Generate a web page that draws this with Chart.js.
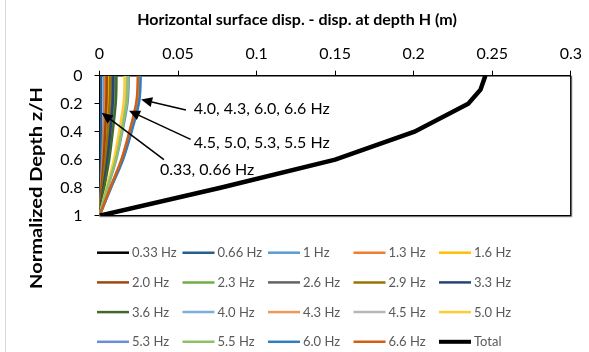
<!DOCTYPE html>
<html>
<head>
<meta charset="utf-8">
<script src="https://cdn.jsdelivr.net/npm/chart.js@4.4.1/dist/chart.umd.min.js"></script>
<style>
  html, body { margin: 0; padding: 0; background: #ffffff; }
  #wrap { width: 589px; height: 352px; position: relative; }
</style>
</head>
<body>
<div id="wrap"><canvas id="chart" width="589" height="352"></canvas></div>
<script>
// Normalized depth z/H at which each displacement profile is given
const depth = [0, 0.1, 0.2, 0.4, 0.6, 0.8, 1];

// Horizontal displacement relative to depth H (m), one profile per frequency
const disp033 = [0.0006, 0.0006, 0.0006, 0.0005, 0.0004, 0.0002, 0];
const disp066 = [0.0011, 0.0011, 0.00105, 0.00086, 0.00063, 0.0003, 0];
const disp100 = [0.0030, 0.00297, 0.00287, 0.00234, 0.00171, 0.00084, 0];
const disp130 = [0.0036, 0.00356, 0.00344, 0.00281, 0.00205, 0.00101, 0];
const disp160 = [0.0056, 0.00554, 0.00535, 0.00437, 0.00319, 0.00157, 0];
const disp200 = [0.0046, 0.00455, 0.00439, 0.00359, 0.00262, 0.00129, 0];
const disp230 = [0.0098, 0.0097, 0.00936, 0.00764, 0.00559, 0.00274, 0];
const disp260 = [0.0080, 0.00792, 0.00764, 0.00624, 0.00456, 0.00224, 0];
const disp290 = [0.0067, 0.00663, 0.0064, 0.00523, 0.00382, 0.00188, 0];
const disp330 = [0.0088, 0.00871, 0.0084, 0.00686, 0.00502, 0.00246, 0];
const disp360 = [0.0108, 0.01069, 0.01031, 0.00842, 0.00616, 0.00302, 0];
const disp400 = [0.0258, 0.02554, 0.02464, 0.02012, 0.01471, 0.00722, 0];
const disp430 = [0.0246, 0.02435, 0.02349, 0.01919, 0.01402, 0.00689, 0];
const disp450 = [0.0172, 0.01703, 0.01643, 0.01342, 0.0098, 0.00482, 0];
const disp500 = [0.0160, 0.01584, 0.01528, 0.01248, 0.00912, 0.00448, 0];
const disp530 = [0.0186, 0.01841, 0.01776, 0.01451, 0.0106, 0.00521, 0];
const disp550 = [0.0181, 0.01792, 0.01729, 0.01412, 0.01032, 0.00507, 0];
const disp600 = [0.0262, 0.02594, 0.02502, 0.02044, 0.01493, 0.00734, 0];
const disp660 = [0.0244, 0.02416, 0.0233, 0.01903, 0.01391, 0.00683, 0];
const dispTotal = [0.2456, 0.2425, 0.2347, 0.2005, 0.150, 0.077, 0];

const seriesLabels = ['0.33 Hz', '0.66 Hz', '1 Hz', '1.3 Hz', '1.6 Hz',
  '2.0 Hz', '2.3 Hz', '2.6 Hz', '2.9 Hz', '3.3 Hz',
  '3.6 Hz', '4.0 Hz', '4.3 Hz', '4.5 Hz', '5.0 Hz',
  '5.3 Hz', '5.5 Hz', '6.0 Hz', '6.6 Hz', 'Total'];
const seriesValues = [disp033, disp066, disp100, disp130, disp160,
  disp200, disp230, disp260, disp290, disp330,
  disp360, disp400, disp430, disp450, disp500,
  disp530, disp550, disp600, disp660, dispTotal];
const seriesColors = ['#000000', '#255E91', '#5B9BD5', '#ED7D31', '#FFC000',
  '#9E480E', '#70AD47', '#636363', '#997300', '#264478',
  '#43682B', '#7CAFDD', '#F1975A', '#B7B7B7', '#FFCD33',
  '#698ED0', '#8CC168', '#327DC2', '#D26012', '#000000'];

const xTicks = [0, 0.05, 0.1, 0.15, 0.2, 0.25, 0.3];
const yTicks = [0, 0.2, 0.4, 0.6, 0.8, 1];

const xTitle = 'Horizontal surface disp. - disp. at depth H (m)';
const yTitle = 'Normalized Depth z/H';

// Callout texts with the arrow they carry: [x, z] of label, arrow tail and arrow tip
const callouts = [
  { text: '4.0, 4.3, 6.0, 6.6 Hz', at: [0.0600, 0.24], tail: [0.0550, 0.245], tip: [0.0265, 0.17] },
  { text: '4.5, 5.0, 5.3, 5.5 Hz', at: [0.0600, 0.48], tail: [0.0580, 0.455], tip: [0.0188, 0.25] },
  { text: '0.33, 0.66 Hz', at: [0.0385, 0.675], tail: [0.0410, 0.60], tip: [0.0014, 0.265] }
];

const FONT = 'Lato, "Open Sans", "Liberation Sans", sans-serif';
const N = seriesLabels.length;

const datasets = seriesLabels.map((label, i) => ({
  label,
  data: seriesValues[i].map((v, k) => ({ x: v, y: depth[k] })),
  borderColor: seriesColors[i],
  backgroundColor: seriesColors[i],
  borderWidth: label === 'Total' ? 4.5 : 2.5,
  showLine: true,
  pointRadius: 0,
  pointHoverRadius: 0,
  tension: label === 'Total' ? 0 : 0.35,
  order: N - i
}));

// Plot frame (right and bottom edges), left rule of the card
const framePlugin = {
  id: 'frame',
  beforeDatasetsDraw(chart) {
    const { ctx, chartArea: a } = chart;
    ctx.save();
    ctx.strokeStyle = '#d9d9d9';
    ctx.lineWidth = 1;
    ctx.beginPath();
    ctx.moveTo(5.5, 0); ctx.lineTo(5.5, chart.height);
    ctx.moveTo(a.right + 1.5, a.top); ctx.lineTo(a.right + 1.5, a.bottom + 1.5);
    ctx.lineTo(a.left, a.bottom + 1.5);
    ctx.stroke();
    ctx.strokeStyle = '#000000';
    ctx.lineWidth = 1.5;
    ctx.beginPath();
    ctx.moveTo(a.right, a.top); ctx.lineTo(a.right, a.bottom); ctx.lineTo(a.left, a.bottom);
    ctx.stroke();
    ctx.restore();
  }
};

// Callout labels with arrows
const calloutPlugin = {
  id: 'callouts',
  afterDatasetsDraw(chart) {
    const { ctx, scales } = chart;
    const px = p => [scales.x.getPixelForValue(p[0]), scales.y.getPixelForValue(p[1])];
    ctx.save();
    callouts.forEach(c => {
      const [tx, ty] = px(c.tail);
      const [hx, hy] = px(c.tip);
      const ang = Math.atan2(hy - ty, hx - tx);
      const headLen = 11, headW = 5;
      const bx = hx - headLen * Math.cos(ang), by = hy - headLen * Math.sin(ang);
      ctx.strokeStyle = '#000000';
      ctx.lineWidth = 1.5;
      ctx.beginPath();
      ctx.moveTo(tx, ty); ctx.lineTo(bx, by);
      ctx.stroke();
      ctx.fillStyle = '#000000';
      ctx.beginPath();
      ctx.moveTo(hx, hy);
      ctx.lineTo(bx + headW * Math.sin(ang), by - headW * Math.cos(ang));
      ctx.lineTo(bx - headW * Math.sin(ang), by + headW * Math.cos(ang));
      ctx.closePath();
      ctx.fill();
      const [lx, ly] = px(c.at);
      ctx.font = '16px ' + FONT;
      ctx.textAlign = 'left';
      ctx.textBaseline = 'middle';
      ctx.fillText(c.text, lx, ly);
    });
    ctx.restore();
  }
};

// Axis titles and the 5-column legend
const sidePlugin = {
  id: 'side',
  afterDraw(chart) {
    const { ctx } = chart;
    ctx.save();
    ctx.fillStyle = '#000000';
    ctx.font = 'bold 16px ' + FONT;
    ctx.textAlign = 'center';
    ctx.textBaseline = 'middle';
    ctx.fillText(xTitle, 297, 20);
    ctx.restore();

    ctx.save();
    ctx.translate(37, 188);
    ctx.rotate(-Math.PI / 2);
    ctx.font = 'bold 17px ' + FONT;
    ctx.scale(1.18, 1);
    ctx.fillStyle = '#000000';
    ctx.textAlign = 'center';
    ctx.textBaseline = 'middle';
    ctx.fillText(yTitle, 0, 0);
    ctx.restore();

    ctx.save();
    ctx.font = '13px ' + FONT;
    ctx.textBaseline = 'middle';
    ctx.textAlign = 'left';
    chart.data.datasets.forEach((ds, i) => {
      const col = i % 5, row = Math.floor(i / 5);
      const x0 = 97 + col * 85.5;
      const y = 252.7 + row * 29.7;
      ctx.strokeStyle = ds.borderColor;
      ctx.lineWidth = ds.label === 'Total' ? 4 : 2.5;
      ctx.beginPath();
      ctx.moveTo(x0, y); ctx.lineTo(x0 + 32, y);
      ctx.stroke();
      ctx.fillStyle = '#595959';
      ctx.fillText(ds.label, x0 + 35, y + 0.5);
    });
    ctx.restore();
  }
};

new Chart(document.getElementById('chart'), {
  type: 'scatter',
  data: { datasets },
  plugins: [framePlugin, calloutPlugin, sidePlugin],
  options: {
    responsive: false,
    animation: false,
    devicePixelRatio: 1,
    layout: { padding: { left: 0, right: 12.5, top: 0, bottom: 136.3 } },
    plugins: {
      legend: { display: false },
      tooltip: { enabled: false },
      title: { display: false }
    },
    scales: {
      x: {
        type: 'linear',
        position: 'top',
        min: 0, max: 0.3,
        afterBuildTicks: s => { s.ticks = xTicks.map(v => ({ value: v })); },
        afterFit: s => { s.height = 75.7; },
        ticks: {
          color: '#000000',
          font: { family: FONT, size: 16 },
          padding: 7,
          maxRotation: 0,
          callback: v => String(v)
        },
        grid: { drawOnChartArea: false, drawTicks: true, tickLength: 5, color: '#000000', lineWidth: 1 },
        border: { display: true, color: '#000000', width: 1.5 }
      },
      y: {
        type: 'linear',
        reverse: true,
        min: 0, max: 1,
        afterBuildTicks: s => { s.ticks = yTicks.map(v => ({ value: v })); },
        afterFit: s => { s.width = 99.5; },
        ticks: {
          color: '#000000',
          font: { family: FONT, size: 16 },
          padding: 12,
          callback: v => String(v)
        },
        grid: { drawOnChartArea: false, drawTicks: true, tickLength: 5, color: '#000000', lineWidth: 1 },
        border: { display: true, color: '#000000', width: 1.5 }
      }
    }
  }
});
</script>
</body>
</html>
